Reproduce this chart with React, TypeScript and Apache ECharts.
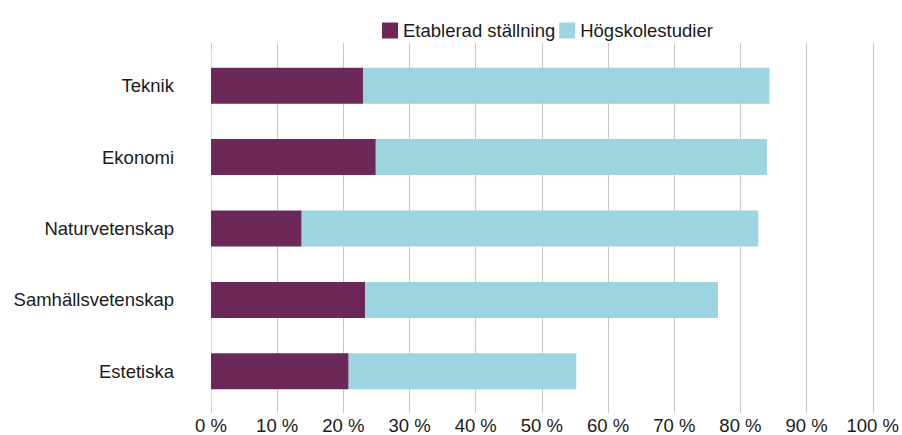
import React, { useEffect, useRef } from "react";
import * as echarts from "echarts";

const categories = ["Teknik", "Ekonomi", "Naturvetenskap", "Samhällsvetenskap", "Estetiska"];
const seriesNames = ["Etablerad ställning", "Högskolestudier"];
const etablerad = [23.0, 24.9, 13.7, 23.3, 20.8];
const hogskola = [61.4, 59.1, 69.0, 53.3, 34.4];
const colors = ["#6B2858", "#9CD4DF"];
const FONT = "'Liberation Sans', Arial, sans-serif";

export default function App() {
  const ref = useRef<HTMLDivElement>(null);
  useEffect(() => {
    document.body.style.margin = "0";
    if (!ref.current) return;
    const chart = echarts.init(ref.current, undefined, { renderer: "svg" });
    const gridColors = ["#DCDCDC", "#C8C8C8", "#C8C8C8", "#C8C8C8", "#C8C8C8", "#C8C8C8", "#C8C8C8", "#C8C8C8", "#C8C8C8", "#C8C8C8", "#C8C8C8"];
    chart.setOption({
      animation: false,
      textStyle: { fontFamily: FONT },
      legend: {
        left: 377,
        top: 16,
        itemWidth: 16,
        itemHeight: 16,
        itemGap: 4,
        icon: "rect",
        textStyle: { fontSize: 18.5, color: "#1a1a1a", fontFamily: FONT },
        data: seriesNames,
      },
      grid: { left: 211, right: 26, top: 50, height: 359, containLabel: false },
      xAxis: [
        {
          type: "value",
          position: "bottom",
          min: 0,
          max: 100,
          interval: 10,
          axisLine: { show: false },
          axisTick: { show: true, length: 6, lineStyle: { color: "#C8C8C8" } },
          splitLine: { show: true, lineStyle: { color: gridColors, width: 1 } },
          axisLabel: {
            formatter: "{value} %",
            fontSize: 18.5,
            color: "#1a1a1a",
            margin: 9,
            fontFamily: FONT,
          },
        },
        {
          type: "value",
          position: "top",
          min: 0,
          max: 100,
          interval: 10,
          axisLine: { show: false },
          axisTick: { show: true, length: 7, lineStyle: { color: "#C8C8C8" } },
          splitLine: { show: false },
          axisLabel: { show: false },
        },
      ],
      yAxis: {
        type: "category",
        data: categories,
        inverse: true,
        axisLine: { show: false },
        axisTick: { show: false },
        axisLabel: { fontSize: 18.5, color: "#1a1a1a", margin: 37, fontFamily: FONT },
      },
      series: [
        {
          name: seriesNames[0],
          type: "bar",
          stack: "total",
          barWidth: 36,
          data: etablerad,
          itemStyle: { color: colors[0] },
        },
        {
          name: seriesNames[1],
          type: "bar",
          stack: "total",
          barWidth: 36,
          data: hogskola,
          itemStyle: { color: colors[1] },
        },
      ],
    });
    return () => chart.dispose();
  }, []);
  return <div ref={ref} style={{ width: 902, height: 435 }} />;
}
